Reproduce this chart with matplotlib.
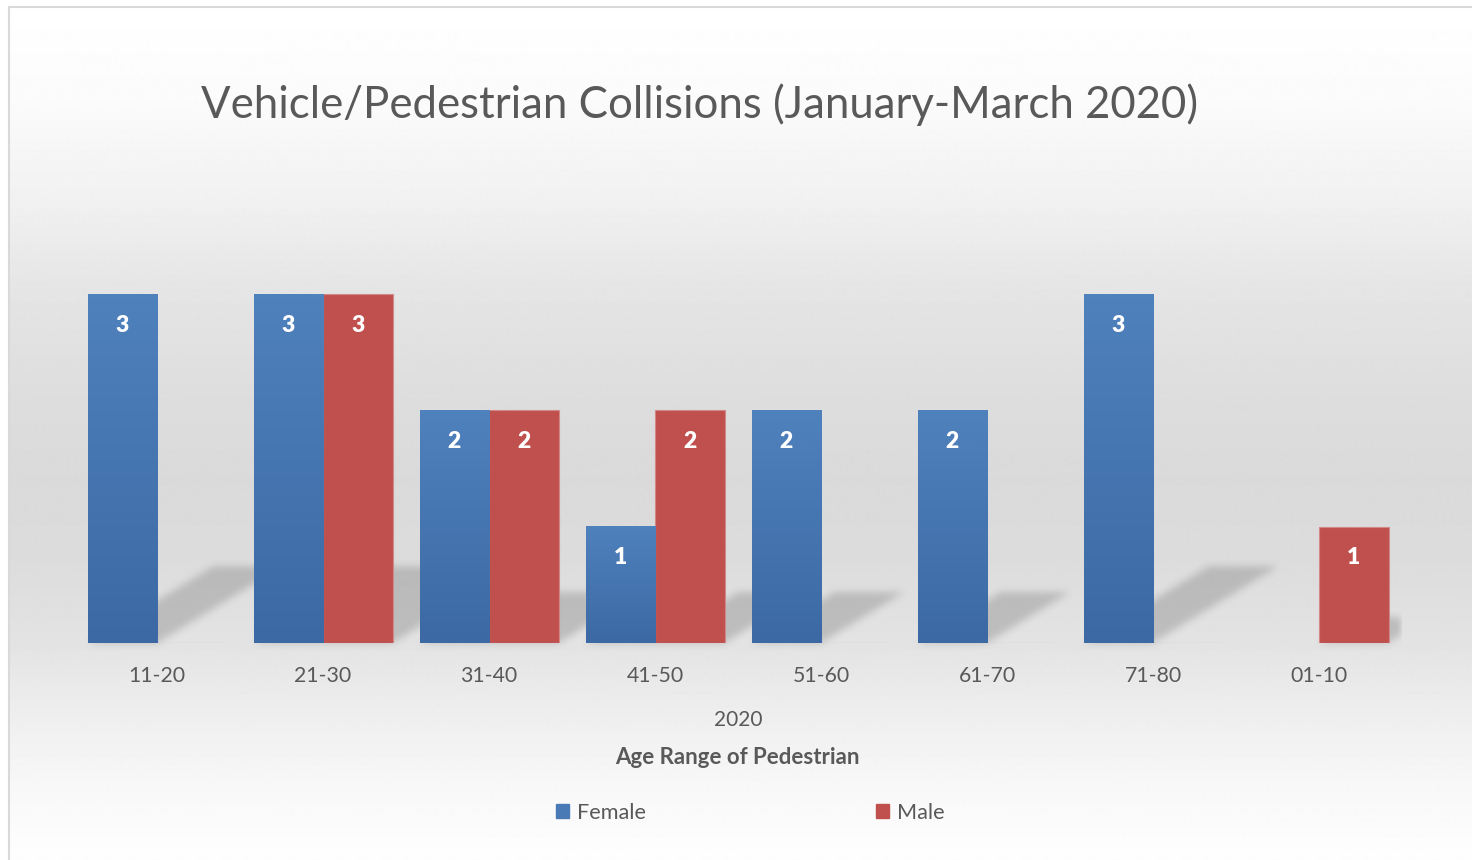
import numpy as np
import matplotlib
matplotlib.use('Agg')
import matplotlib.pyplot as plt
from matplotlib.colors import LinearSegmentedColormap
from matplotlib.patches import Rectangle

categories = ['11-20', '21-30', '31-40', '41-50', '51-60', '61-70', '71-80', '01-10']
female = [3, 3, 2, 1, 2, 2, 3, 0]
male = [0, 3, 2, 2, 0, 0, 0, 1]
series_names = ['Female', 'Male']
title = 'Vehicle/Pedestrian Collisions (January-March 2020)'
year_label = '2020'
xlabel = 'Age Range of Pedestrian'

plt.rcParams['font.family'] = ['Lato', 'DejaVu Sans']
TXT = '#595959'
W, H = 1472, 860
fig = plt.figure(figsize=(W / 100, H / 100), dpi=100)
fig.patch.set_facecolor('white')

# ---- chart-area background gradient ----
bg = fig.add_axes([0, 0, 1, 1], zorder=0)
bg.set_xlim(0, W)
bg.set_ylim(H, 0)
bg.axis('off')
ys = np.arange(7, H + 1)
stops_y = [7, 100, 200, 290, 400, 480, 560, 643, 700, 780, 860]
stops_v = [255, 251, 241, 229, 221, 218, 220, 227, 236, 247, 254]
vals = np.interp(ys, stops_y, stops_v) / 255.0
img = np.repeat(vals[:, None], 2, axis=1)
bg.imshow(img, cmap='gray', vmin=0, vmax=1, extent=[9, W, H, 7],
          aspect='auto', interpolation='bilinear')
bg.plot([9, 9, W], [H, 7, 7], color='#d9d9d9', lw=1.5)
bg.set_xlim(0, W)
bg.set_ylim(H, 0)

# ---- main axes ----
ax = fig.add_axes([74 / W, 1 - 643 / H, 1328 / W, 3.5 * 116.3 / H], zorder=1)
ax.set_facecolor('none')
x = np.arange(len(categories))
w = 69.5 / 166.0

blue_cmap = LinearSegmentedColormap.from_list('b', ['#3c69a3', '#4f81bd'])
bars_f = ax.bar(x - w / 2, female, w, color='none', zorder=3)
bars_m = ax.bar(x + w / 2, male, w, color='#c0504d', edgecolor='#d28886',
                linewidth=0.8, zorder=3)

grad = np.linspace(0, 1, 64)[:, None]
for p in bars_f:
    h = p.get_height()
    if h > 0:
        x0 = p.get_x()
        ax.imshow(grad, cmap=blue_cmap, origin='lower', aspect='auto',
                  extent=[x0, x0 + p.get_width(), 0, h], zorder=3,
                  interpolation='bilinear')

# ---- soft diagonal shadows ----
nx, ny = 1328, 420
gx = np.linspace(-0.5, 7.5, nx)
gy = np.linspace(-0.1, 3.5, ny)
GX, GY = np.meshgrid(gx, gy)
mask = np.zeros_like(GX)
for p in list(bars_f) + list(bars_m):
    h = p.get_height()
    if h <= 0:
        continue
    xl, xr = p.get_x(), p.get_x() + p.get_width()
    dx, dy = 0.252 * h, 0.22 * h
    t = GY / dy
    xs = GX - t * dx
    inside = (t >= 0) & (t <= 1) & (xs >= xl) & (xs <= xr)
    mask = np.maximum(mask, inside.astype(float))


def box(a, r, axis):
    k = np.ones(2 * r + 1) / (2 * r + 1)
    return np.apply_along_axis(lambda v: np.convolve(v, k, mode='same'), axis, a)


for _ in range(2):
    mask = box(mask, 4, 0)
    mask = box(mask, 4, 1)
rgba = np.zeros((ny, nx, 4))
rgba[..., :3] = 0.45
rgba[..., 3] = mask * 0.33
ax.imshow(rgba, origin='lower', aspect='auto', extent=[-0.5, 7.5, -0.1, 3.5],
          zorder=2, interpolation='bilinear', clip_on=False)

# ---- data labels ----
for bars in (bars_f, bars_m):
    for p in bars:
        h = p.get_height()
        if h > 0:
            ax.annotate(f'{int(h)}', (p.get_x() + p.get_width() / 2, h),
                        xytext=(0, -22.5), textcoords='offset points',
                        ha='center', va='center', color='white',
                        fontweight='heavy', fontsize=16.5)

ax.set_xlim(-0.5, len(categories) - 0.5)
ax.set_ylim(0, 3.5)
ax.set_xticks(x, categories)
ax.set_yticks([])
ax.tick_params(axis='x', length=0, pad=16.5, labelsize=15.3, labelcolor=TXT)
for s in ax.spines.values():
    s.set_visible(False)

# ---- texts ----
fig.text(699.5 / W, 1 - 118 / H, title, ha='center', va='baseline',
         fontsize=31.5, color=TXT)
fig.text(738 / W, 1 - 720 / H, year_label, ha='center', va='center',
         fontsize=15, color=TXT)
fig.text(737 / W, 1 - 757 / H, xlabel, ha='center', va='center',
         fontsize=16, color=TXT, fontweight='bold')

handles = [Rectangle((0, 0), 1, 1, color='#4a7ab6'),
           Rectangle((0, 0), 1, 1, color='#c0504d')]
fig.legend(handles, series_names, loc='center', bbox_to_anchor=(750 / W, 1 - 813 / H),
           ncol=2, frameon=False, handlelength=0.62, handleheight=0.62,
           handletextpad=0.35, columnspacing=10.6, fontsize=15.6, labelcolor=TXT)

fig.savefig('out.png', dpi=100, facecolor='white')
